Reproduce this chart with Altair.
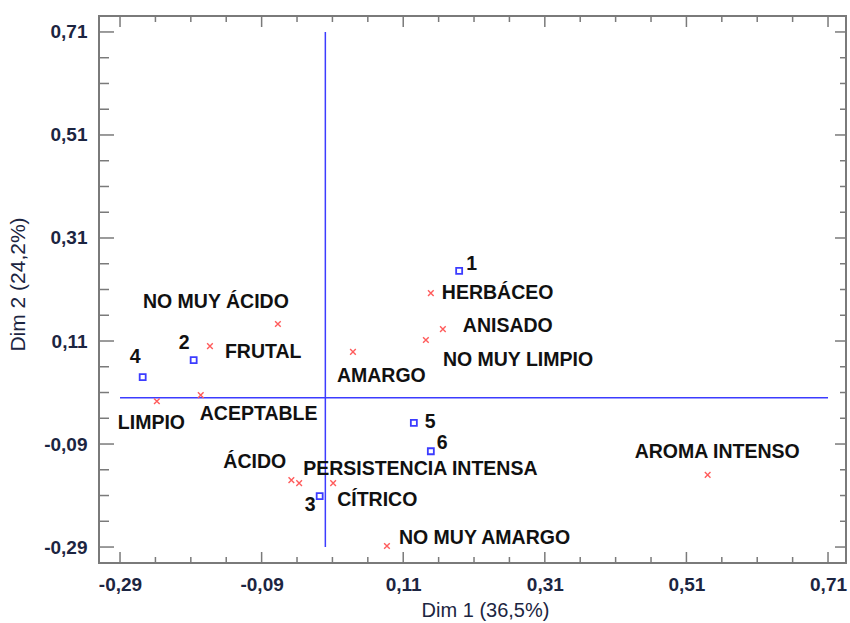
import altair as alt
import pandas as pd

# ---- data ----
row_labels = ["1", "2", "3", "4", "5", "6"]
row_x = [0.189, -0.186, -0.008, -0.258, 0.125, 0.149]
row_y = [0.246, 0.073, -0.191, 0.040, -0.049, -0.104]

col_labels = ["HERBÁCEO", "ANISADO", "NO MUY LIMPIO", "AMARGO", "NO MUY ÁCIDO",
              "FRUTAL", "ACEPTABLE", "LIMPIO", "ÁCIDO", "PERSISTENCIA INTENSA",
              "CÍTRICO", "NO MUY AMARGO", "AROMA INTENSO"]
col_x = [0.149, 0.166, 0.142, 0.039, -0.067, -0.163, -0.176, -0.238, -0.048,
         -0.037, 0.011, 0.087, 0.540]
col_y = [0.203, 0.133, 0.112, 0.089, 0.143, 0.100, 0.005, -0.007, -0.160,
         -0.166, -0.166, -0.288, -0.150]

tick_values = [-0.29, -0.09, 0.11, 0.31, 0.51, 0.71]
tick_labels = ["-0,29", "-0,09", "0,11", "0,31", "0,51", "0,71"]
minor_values = [round(m + k * 0.05, 2) for m in tick_values[:-1] for k in (1, 2, 3)]

x_title = "Dim 1 (36,5%)"
y_title = "Dim 2 (24,2%)"

ref_lo, ref_hi = -0.29, 0.71

# ---- layout / style ----
W, H = 747, 547
X_DOMAIN = [-0.3197, 0.7354]
Y_DOMAIN = [-0.321, 0.741]
FONT = "Liberation Sans"
TXT = "#1c2541"
BLUE = "#3c3cff"
RED = "#ff5c5c"
GRAY = "#7a7a7a"

label_offsets = {
    "1": (7, -7), "2": (-15, -17), "3": (-15, 9), "4": (-13, -20),
    "5": (11, -1), "6": (6, -8),
    "HERBÁCEO": (11, 0), "ANISADO": (20, -3), "NO MUY LIMPIO": (17, 20),
    "AMARGO": (-16, 24), "NO MUY ÁCIDO": (-135, -22), "FRUTAL": (15, 6),
    "ACEPTABLE": (-1, 19), "LIMPIO": (-39, 22), "ÁCIDO": (-68, -18),
    "PERSISTENCIA INTENSA": (4, -14), "CÍTRICO": (4, 17),
    "NO MUY AMARGO": (12, -8), "AROMA INTENSO": (-73, -23),
}

rows_df = pd.DataFrame({"label": row_labels, "x": row_x, "y": row_y})
cols_df = pd.DataFrame({"label": col_labels, "x": col_x, "y": col_y})
all_df = pd.concat([rows_df, cols_df], ignore_index=True)

label_expr = "".join(
    f"abs(datum.value - ({v})) < 0.001 ? '{l}' : " for v, l in zip(tick_values, tick_labels)
) + "''"

xs = alt.Scale(domain=X_DOMAIN, nice=False, zero=False)
ys = alt.Scale(domain=Y_DOMAIN, nice=False, zero=False)

X_AXIS = alt.Axis(values=tick_values, labelExpr=label_expr, ticks=False, domain=False,
                  grid=False, labelFontSize=19, labelFontWeight="bold", labelFont=FONT,
                  labelColor=TXT, labelPadding=12, title=x_title, titleFont=FONT,
                  titleFontSize=20, titleFontWeight="normal", titleColor=TXT,
                  titleX=386, titleY=47, titleBaseline="middle", titleAlign="center")
Y_AXIS = alt.Axis(values=tick_values, labelExpr=label_expr, ticks=False, domain=False,
                  grid=False, labelFontSize=19, labelFontWeight="bold", labelFont=FONT,
                  labelColor=TXT, labelPadding=12, title=y_title, titleFont=FONT,
                  titleFontSize=21, titleFontWeight="normal", titleColor=TXT,
                  titleX=-81, titleY=268, titleAngle=270, titleBaseline="middle",
                  titleAlign="center")


def X(field):
    return alt.X(field, type="quantitative", scale=xs, axis=X_AXIS)


def Y(field):
    return alt.Y(field, type="quantitative", scale=ys, axis=Y_AXIS)


layers = []

# tick marks pointing inward on all four sides
major_df = pd.DataFrame({"v": tick_values})
minor_df = pd.DataFrame({"v": minor_values})
for df, L in ((major_df, 11), (minor_df, 6)):
    layers.append(alt.Chart(df).mark_rule(color=GRAY, strokeWidth=1.5).encode(
        x=X("v"), y=alt.value(H), y2=alt.value(H - L)))
    layers.append(alt.Chart(df).mark_rule(color=GRAY, strokeWidth=1.5).encode(
        x=X("v"), y=alt.value(0), y2=alt.value(L)))
    layers.append(alt.Chart(df).mark_rule(color=GRAY, strokeWidth=1.5).encode(
        y=Y("v"), x=alt.value(0), x2=alt.value(L + 4)))
    layers.append(alt.Chart(df).mark_rule(color=GRAY, strokeWidth=1.5).encode(
        y=Y("v"), x=alt.value(W), x2=alt.value(W - L)))

# reference cross lines
ref_df = pd.DataFrame({"zero": [0.0], "lo": [ref_lo], "hi": [ref_hi]})
layers.append(alt.Chart(ref_df).mark_rule(color=BLUE, strokeWidth=1.5).encode(
    x=X("zero"), y=Y("lo"), y2="hi"))
layers.append(alt.Chart(ref_df).mark_rule(color=BLUE, strokeWidth=1.5).encode(
    y=Y("zero"), x=X("lo"), x2="hi"))

# points
layers.append(alt.Chart(rows_df).mark_point(shape="square", filled=False, color=BLUE,
                                            size=36, strokeWidth=1.8, opacity=1).encode(
    x=X("x"), y=Y("y")))
layers.append(alt.Chart(cols_df).mark_point(shape="M-1,-1L1,1M-1,1L1,-1", filled=False,
                                            color=RED, size=32, strokeWidth=1.4,
                                            opacity=1).encode(
    x=X("x"), y=Y("y")))

# labels
for lab in row_labels + col_labels:
    dx, dy = label_offsets[lab]
    layers.append(alt.Chart(all_df).transform_filter(alt.datum.label == lab).mark_text(
        align="left", baseline="middle", dx=dx, dy=dy, font=FONT, fontSize=19.5,
        fontWeight="bold", color="#111111").encode(x=X("x"), y=Y("y"), text="label:N"))

chart = alt.layer(*layers).properties(
    width=W, height=H,
    padding={"left": 99, "top": 16, "right": 4, "bottom": 60},
    autosize=alt.AutoSizeParams(type="none"),
    background="white",
).configure_view(stroke=GRAY, strokeWidth=2)

chart.save("out.html", embed_options={"renderer": "svg", "actions": False})
